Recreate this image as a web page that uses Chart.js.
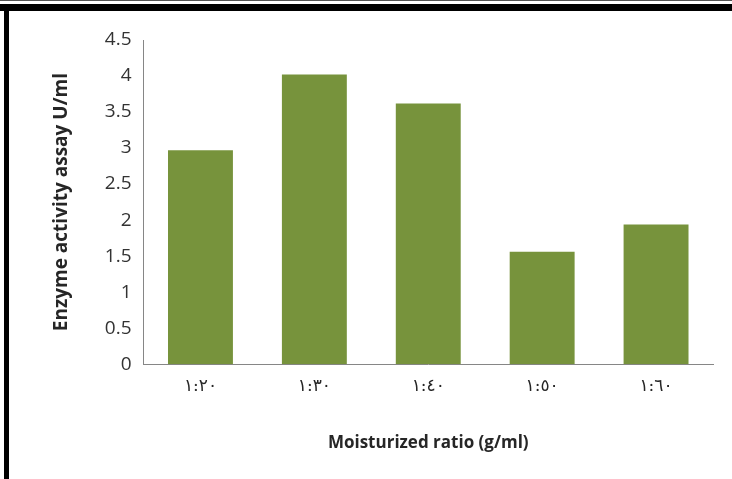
<!DOCTYPE html>
<html>
<head>
<meta charset="utf-8">
<script src="https://cdn.jsdelivr.net/npm/chart.js@4/dist/chart.umd.min.js"></script>
<style>
  html, body { margin: 0; padding: 0; background: #fff; }
  #wrap { position: relative; width: 732px; height: 479px; overflow: hidden; background: #fff; }
  #topThin { position: absolute; left: 0; top: 0; width: 732px; height: 1px; background: #555; }
  #topThick { position: absolute; left: 0; top: 4px; width: 732px; height: 7px; background: #000; }
  #leftThick { position: absolute; left: 4px; top: 4px; width: 5px; height: 475px; background: #000; }
  #c { position: absolute; left: 0; top: 0; }
</style>
</head>
<body>
<div id="wrap">
  <div id="topThin"></div>
  <div id="topThick"></div>
  <div id="leftThick"></div>
  <canvas id="c" width="732" height="479"></canvas>
</div>
<script>
const categories = ["١:٢٠", "١:٣٠", "١:٤٠", "١:٥٠", "١:٦٠"];
const activity = [2.97, 4.02, 3.62, 1.56, 1.94];
const yTitle = "Enzyme activity assay U/ml";
const xTitle = "Moisturized ratio (g/ml)";

Chart.defaults.font.family = "'Open Sans', 'DejaVu Sans', sans-serif";
Chart.defaults.color = "#262626";

new Chart(document.getElementById("c"), {
  type: "bar",
  data: {
    labels: categories,
    datasets: [{
      data: activity,
      backgroundColor: "#77933C",
      borderWidth: 0,
      categoryPercentage: 0.57,
      barPercentage: 1.0
    }]
  },
  options: {
    responsive: false,
    animation: false,
    devicePixelRatio: 1,
    layout: { padding: { left: 46, right: 19, top: 40, bottom: 22 } },
    plugins: { legend: { display: false }, tooltip: { enabled: false } },
    scales: {
      x: {
        grid: { display: false, drawTicks: false },
        border: { color: "#868686", width: 1 },
        ticks: { font: { family: "'DejaVu Serif', 'DejaVu Sans', serif", size: 17 }, color: "#262626", padding: 12 },
        title: { display: true, text: xTitle, font: { size: 17, weight: "bold" }, color: "#262626", padding: { top: 24 } }
      },
      y: {
        min: 0, max: 4.5,
        grid: { display: false, drawTicks: false },
        border: { color: "#868686", width: 1 },
        ticks: { stepSize: 0.5, font: { size: 19 }, color: "#333333", padding: 12, callback: v => String(v) },
        title: { display: true, text: yTitle, font: { size: 19, weight: "bold" }, color: "#262626", padding: { bottom: 20 } }
      }
    }
  }
});
</script>
</body>
</html>
